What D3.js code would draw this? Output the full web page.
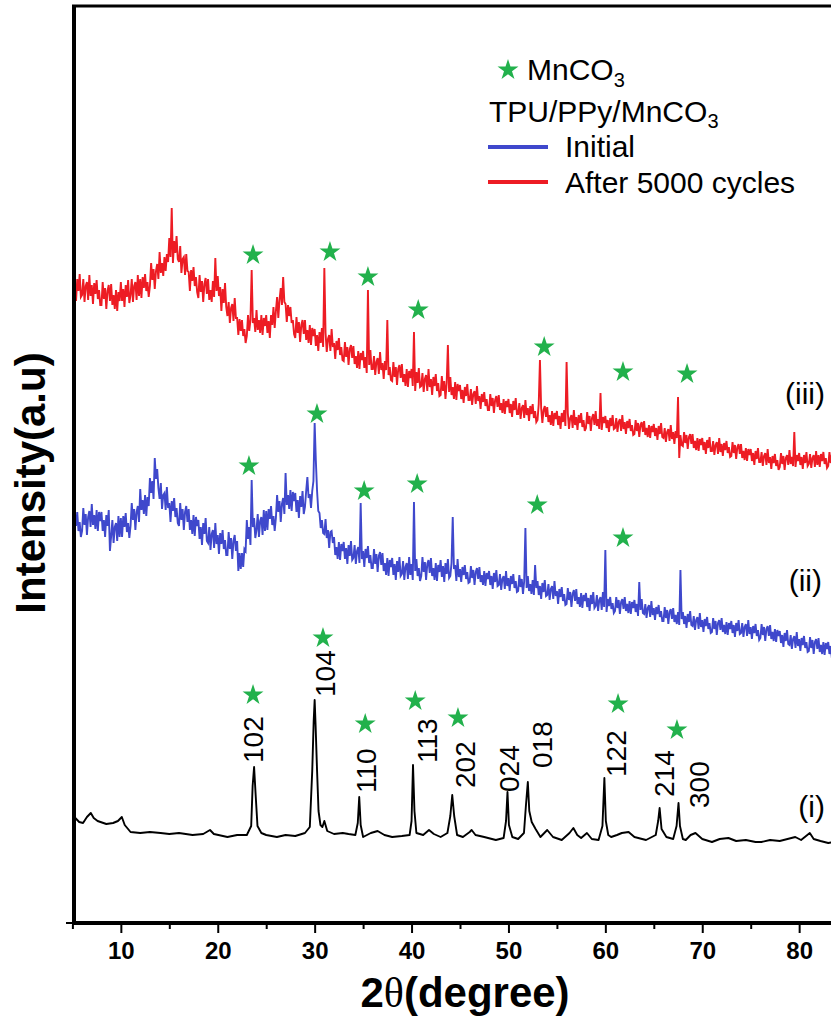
<!DOCTYPE html>
<html>
<head>
<meta charset="utf-8">
<script src="https://cdn.jsdelivr.net/npm/d3@7"></script>
<style>
body { margin: 0; background: #fff; }
svg text { font-family: "Liberation Sans", Arial, sans-serif; fill: #000; }
</style>
</head>
<body>
<div id="chart"></div>
<script>
// XRD patterns, intensities in a.u. (curves already offset); red/blue read every 0.125 deg from 5 deg
var thetaStart = 5, thetaStep = 0.125;

var redIntensity = [
  645,626,638,620,642,630,647,624, 626,642,619,635,639,621,646,625,
  636,617,638,627,641,622,631,616, 616,639,622,633,612,630,636,620,
  637,616,626,612,631,610,629,620, 639,620,632,614,636,624,641,618,
  626,642,619,635,639,621,646,625, 642,623,644,633,647,630,639,624,
  635,658,641,652,632,650,657,642, 669,648,658,645,664,650,667,659,
  683,664,713,658,680,668,685,662, 659,675,648,662,664,646,667,650,
  649,630,651,640,654,635,644,629, 623,646,629,640,619,637,643,627,
  642,621,631,619,640,624,663,630, 645,625,634,610,632,618,638,614,
  605,619,598,613,617,600,623,603, 603,586,602,590,601,585,592,578,
  585,606,590,601,651,598,603,589, 611,591,601,588,606,586,603,595,
  606,588,600,583,606,596,614,593, 610,624,603,621,633,616,644,619,
  617,599,616,605,614,598,601,587, 583,604,588,599,579,596,601,587,
  601,581,591,578,596,576,593,585, 592,575,586,570,589,578,593,574,
  653,588,569,582,586,570,592,574, 578,562,580,571,583,566,574,561,
  560,579,564,574,556,572,576,563, 575,557,565,553,570,552,568,561,
  570,553,564,548,631,556,571,552, 552,565,546,559,563,547,569,551,
  558,542,560,551,601,546,554,541, 540,559,544,554,536,552,556,543,
  557,539,547,535,552,534,550,543, 552,535,589,530,549,538,553,534,
  535,548,529,542,546,530,552,534, 542,526,544,535,547,530,538,525,
  526,545,530,540,522,538,576,529, 544,526,534,522,539,521,537,530,
  536,522,531,518,534,525,537,521, 521,532,516,527,530,517,535,520,
  525,512,527,519,529,515,522,511, 511,527,515,523,508,521,525,514,
  526,511,518,508,522,507,520,514, 522,508,517,504,520,511,523,507,
  507,518,502,513,516,503,521,506, 513,500,515,507,517,503,510,499,
  501,517,561,513,498,511,515,504, 514,499,506,496,510,495,508,502,
  510,496,505,492,508,499,511,495, 559,508,492,503,506,493,511,496,
  504,491,506,498,508,494,501,490, 493,509,497,505,490,503,507,496,
  510,495,502,492,528,491,504,498, 505,493,501,489,503,495,506,492,
  493,503,489,499,502,490,506,492, 499,487,500,493,502,490,496,486,
  487,501,490,498,484,496,499,489, 500,486,493,484,496,483,495,489,
  497,485,493,481,495,487,498,484, 483,493,479,489,492,480,496,482,
  489,477,490,483,524,463,486,476, 475,489,478,486,472,484,487,477,
  487,473,480,471,483,470,482,476, 483,471,479,467,481,473,484,470,
  470,480,466,476,479,467,483,469, 477,465,478,471,480,468,474,464,
  465,479,468,476,462,474,477,467, 477,463,470,461,473,460,472,466,
  472,460,468,456,470,462,473,459, 459,469,455,465,468,456,472,458,
  464,452,465,458,467,455,461,451, 454,468,457,465,451,463,466,456,
  471,457,464,455,489,454,466,460, 468,456,464,452,466,458,469,455,
  457,467,453,463,466,454,470,456, 466,454,467,460,469,457,463,453,
  455,469,458,466,452
];

var blueIntensity = [
  404,385,406,395,409,390,399,384, 390,413,396,407,386,404,410,394,
  417,396,406,392,411,390,409,400, 409,390,401,384,406,395,411,370,
  385,401,378,394,398,380,405,384, 403,384,405,394,408,389,398,383,
  395,418,401,412,391,409,415,399, 432,411,421,407,426,405,424,415,
  443,428,440,422,463,442,452,433, 422,438,412,426,428,411,434,413,
  418,399,420,410,423,404,413,398, 395,418,401,412,391,409,415,399,
  412,391,401,387,406,385,404,395, 401,382,394,376,398,387,403,380,
  378,394,371,387,391,373,398,377, 386,367,388,377,391,372,381,366,
  366,389,372,383,362,380,386,370, 380,350,368,352,368,354,372,370,
  401,382,394,376,441,394,403,383, 391,407,384,400,404,386,411,390,
  410,391,412,402,415,396,405,390, 403,426,409,420,399,417,423,407,
  448,416,426,412,431,410,429,420, 428,409,421,403,425,414,430,407,
  414,430,444,423,427,413,430,440, 498,460,430,410,408,393,401,388,
  387,402,383,391,373,389,390,378, 384,366,374,362,379,361,377,370,
  379,362,373,357,376,365,380,361, 363,376,357,370,374,358,418,362,
  370,354,372,363,375,358,366,353, 353,372,357,367,349,365,369,356,
  368,350,358,346,363,345,361,354, 363,346,357,341,360,349,364,345,
  347,360,341,354,358,342,364,346, 357,341,419,350,362,345,353,340,
  345,364,349,359,341,357,361,348, 363,345,353,341,358,340,356,349,
  361,344,355,339,358,347,362,343, 345,358,404,352,356,340,362,344,
  352,339,354,346,356,342,349,338, 339,355,343,351,336,349,353,342,
  354,339,346,336,350,335,348,342, 350,336,345,332,348,339,351,335,
  336,347,331,342,345,332,350,335, 343,330,345,337,347,333,340,329,
  330,346,334,342,327,340,393,333, 345,330,337,327,341,326,356,333,
  340,326,335,322,338,329,341,325, 326,337,321,332,335,322,340,325,
  330,317,332,324,334,320,327,316, 317,333,321,329,314,327,331,320,
  332,317,324,314,328,313,326,320, 328,314,323,310,326,317,329,313,
  315,326,310,321,324,311,329,314, 371,309,322,315,324,312,318,308,
  310,324,313,321,307,319,322,312, 324,310,317,308,320,307,319,313,
  321,309,317,305,339,311,322,308, 307,317,303,313,316,304,320,306,
  313,301,314,307,316,304,310,300, 300,314,303,311,297,309,312,302,
  313,299,306,297,309,296,351,302, 309,297,305,293,307,299,310,296,
  295,305,291,301,304,292,308,294, 301,289,302,295,304,292,298,288,
  289,303,292,300,286,298,301,291, 303,289,296,287,299,286,298,292,
  300,288,296,284,298,290,301,287, 288,298,284,294,297,285,301,287,
  294,282,295,288,297,285,291,281, 283,297,286,294,280,292,295,285,
  296,282,289,280,292,279,291,285, 290,278,286,274,288,280,291,277,
  276,286,272,282,285,273,289,275, 282,270,283,276,285,273,279,269,
  270,284,273,281,267,279,282,272, 283,269,276,267,279,266,278,272,
  279,267,275,263,277
];

var blackTheta = [5.0,5.3,5.7,6.1,6.5,6.9,7.2,7.6,7.9,8.5,9.2,9.7,10.1,10.4,11.0,12.0,13.0,14.1,15.0,16.0,
  17.4,18.5,19.2,19.6,21.0,22.0,23.0,23.45,23.6,23.75,23.9,24.1,24.5,25.0,26.1,27.0,28.0,29.0,29.5,29.75,
  29.9,30.0,30.1,30.25,30.4,30.6,30.8,31.0,31.3,32.0,32.9,33.5,34.2,34.45,34.6,34.75,35.0,35.8,36.5,37.2,
  38.0,39.0,39.8,40.0,40.15,40.3,40.5,41.2,41.8,42.3,43.0,43.7,44.0,44.2,44.4,44.7,45.3,46.0,46.2,46.6,
  47.5,48.7,49.5,49.75,49.9,50.05,50.4,51.0,51.6,51.8,52.0,52.15,52.4,52.8,53.3,54.0,54.6,55.5,56.3,56.7,
  57.1,57.5,58.1,58.6,59.3,59.7,59.9,60.05,60.3,60.6,61.2,61.7,62.4,63.0,64.2,65.2,65.45,65.6,65.8,66.3,
  67.0,67.35,67.55,67.7,68.0,68.3,68.8,69.3,70.0,71.0,71.8,72.7,73.5,74.5,75.5,76.1,77.0,78.0,78.8,79.6,
  80.2,81.1,81.5,82.2,83.0,83.5];
var blackIntensity = [102,103,99,98,104,108,103,100,99,97,98,100,104,96,89,88,89,88,87,88,
  86,87,91,87,84,86,86,95,135,154,128,95,88,86,84,86,85,88,94,150,
  200,221,195,150,110,96,94,100,90,87,88,87,86,98,124,96,84,88,90,86,
  84,85,86,100,156,110,88,86,91,87,84,88,105,126,105,86,84,89,91,86,
  84,81,83,100,129,96,84,82,88,115,139,110,99,92,84,91,84,81,88,93,
  86,83,88,82,81,95,143,100,86,84,86,88,89,84,81,86,100,113,92,84,
  82,95,118,95,82,81,86,88,82,79,82,83,80,81,79,79,81,80,82,84,
  81,88,82,80,78,79];

// MnCO3 star markers
var starTheta = [23.64,30.86,35.22,40.38,44.79,61.31,67.39,
                 23.22,30.24,35.11,40.58,52.97,61.82,
                 23.64,31.58,35.5,40.69,53.69,61.82,68.43];
var starIntensity = [227,284,198,221,204,218,192,
                     456,508,431,438,417,384,
                     667,670,645,612,575,550,548];

// hkl labels of MnCO3 (sample i)
var peakLabels = ["102","104","110","113","202","024","018","122","214","300"];
var peakLabelTheta = [23.74,31.17,35.4,41.69,45.6,50.14,53.55,61.2,66.15,69.76];
var peakLabelIntensity = [158,224,128,158,133,129,153,144,124,113];

var seriesLabels = ["(i)","(ii)","(iii)"];
var seriesLabelTheta = [82.67,82.36,82.67];
var seriesLabelIntensity = [104,330,517];

var xTicks = [10,20,30,40,50,60,70,80];
var xMinorTicks = [5,15,25,35,45,55,65,75];
var legendNames = ["Initial","After 5000 cycles"];
var colors = { red: "#ED1C24", blue: "#3F48CC", black: "#000", star: "#22B14C" };

var width = 831, height = 1016;
var svg = d3.select("#chart").append("svg").attr("width", width).attr("height", height);

var x = d3.scaleLinear().domain([5, 85]).range([72.4, 847.6]);
var y = d3.scaleLinear().domain([0, 915]).range([921, 6]);

svg.append("clipPath").attr("id", "clip").append("rect").attr("x", 72).attr("y", 0).attr("width", width).attr("height", 921);
var plot = svg.append("g").attr("clip-path", "url(#clip)");

var line = d3.line().x(d => x(d[0])).y(d => y(d[1]));
function onGrid(vals) { return vals.map((v, i) => [thetaStart + i * thetaStep, v]); }

plot.append("path").datum(blackTheta.map((t, i) => [t, blackIntensity[i]])).attr("fill", "none")
  .attr("stroke", colors.black).attr("stroke-width", 1.9).attr("stroke-linejoin", "round").attr("d", line);
plot.append("path").datum(onGrid(blueIntensity)).attr("fill", "none")
  .attr("stroke", colors.blue).attr("stroke-width", 1.9).attr("d", line);
plot.append("path").datum(onGrid(redIntensity)).attr("fill", "none")
  .attr("stroke", colors.red).attr("stroke-width", 1.9).attr("d", line);

var star = d3.symbol().type(d3.symbolStar).size(136);
svg.selectAll(".star").data(starTheta).enter().append("path").attr("class", "star")
  .attr("transform", (d, i) => "translate(" + x(d) + "," + (y(starIntensity[i]) + 1) + ")")
  .attr("fill", colors.star).attr("d", star);

svg.selectAll(".hkl").data(peakLabels).enter().append("text").attr("class", "hkl")
  .attr("transform", (d, i) => "translate(" + x(peakLabelTheta[i]) + "," + y(peakLabelIntensity[i]) + ") rotate(-90)")
  .attr("dominant-baseline", "central").style("font-size", "28px").text(d => d);

svg.selectAll(".slabel").data(seriesLabels).enter().append("text").attr("class", "slabel")
  .attr("x", (d, i) => x(seriesLabelTheta[i])).attr("y", (d, i) => y(seriesLabelIntensity[i]))
  .attr("text-anchor", "end").style("font-size", "30px").text(d => d);

// axes
var axisY = 925;
var minor = svg.append("g").attr("transform", "translate(0," + axisY + ")")
  .call(d3.axisBottom(x).tickValues(xMinorTicks).tickSize(4).tickFormat(""));
var major = svg.append("g").attr("transform", "translate(0," + axisY + ")")
  .call(d3.axisBottom(x).tickValues(xTicks).tickSize(8).tickPadding(9).tickFormat(d3.format("d")));
[minor, major].forEach(g => {
  g.select(".domain").remove();
  g.selectAll("line").attr("stroke", "#000").attr("stroke-width", 2);
});
major.selectAll("text").style("font-size", "24px").style("font-weight", "bold")
  .style("font-family", "'Liberation Sans', Arial, sans-serif");

svg.append("line").attr("x1", 72).attr("x2", width).attr("y1", 923).attr("y2", 923).attr("stroke", "#000").attr("stroke-width", 4);
svg.append("line").attr("x1", 74).attr("x2", 74).attr("y1", 5).attr("y2", 925).attr("stroke", "#000").attr("stroke-width", 4);
svg.append("line").attr("x1", 72).attr("x2", width).attr("y1", 6).attr("y2", 6).attr("stroke", "#000").attr("stroke-width", 3);
svg.append("line").attr("x1", 66).attr("x2", 72).attr("y1", 923).attr("y2", 923).attr("stroke", "#000").attr("stroke-width", 2);

var xt = svg.append("text").attr("x", 465).attr("y", 1007).attr("text-anchor", "middle")
  .style("font-size", "42px").style("font-weight", "bold");
xt.append("tspan").text("2");
xt.append("tspan").style("font-family", "'Liberation Serif', serif").style("font-weight", "normal").text("θ");
xt.append("tspan").text("(degree)");

svg.append("text").attr("transform", "translate(45,483) rotate(-90)").attr("text-anchor", "middle")
  .style("font-size", "42px").style("font-weight", "bold").text("Intensity(a.u)");

// legend
var lg = svg.append("g").style("font-size", "30px");
lg.append("path").attr("transform", "translate(508,70)").attr("fill", colors.star).attr("d", star);
var t1 = lg.append("text").attr("x", 527).attr("y", 80).text("MnCO");
t1.append("tspan").attr("dy", 7).style("font-size", "20px").text("3");
var t2 = lg.append("text").attr("x", 489).attr("y", 122).text("TPU/PPy/MnCO");
t2.append("tspan").attr("dy", 6).style("font-size", "20px").text("3");
[colors.blue, colors.red].forEach((c, i) => {
  var ly = 147 + i * 35;
  lg.append("line").attr("x1", 488).attr("x2", 548).attr("y1", ly).attr("y2", ly).attr("stroke", c).attr("stroke-width", 4);
  lg.append("text").attr("x", 565).attr("y", ly + 10 + i * 1).text(legendNames[i]);
});
</script>
</body>
</html>
